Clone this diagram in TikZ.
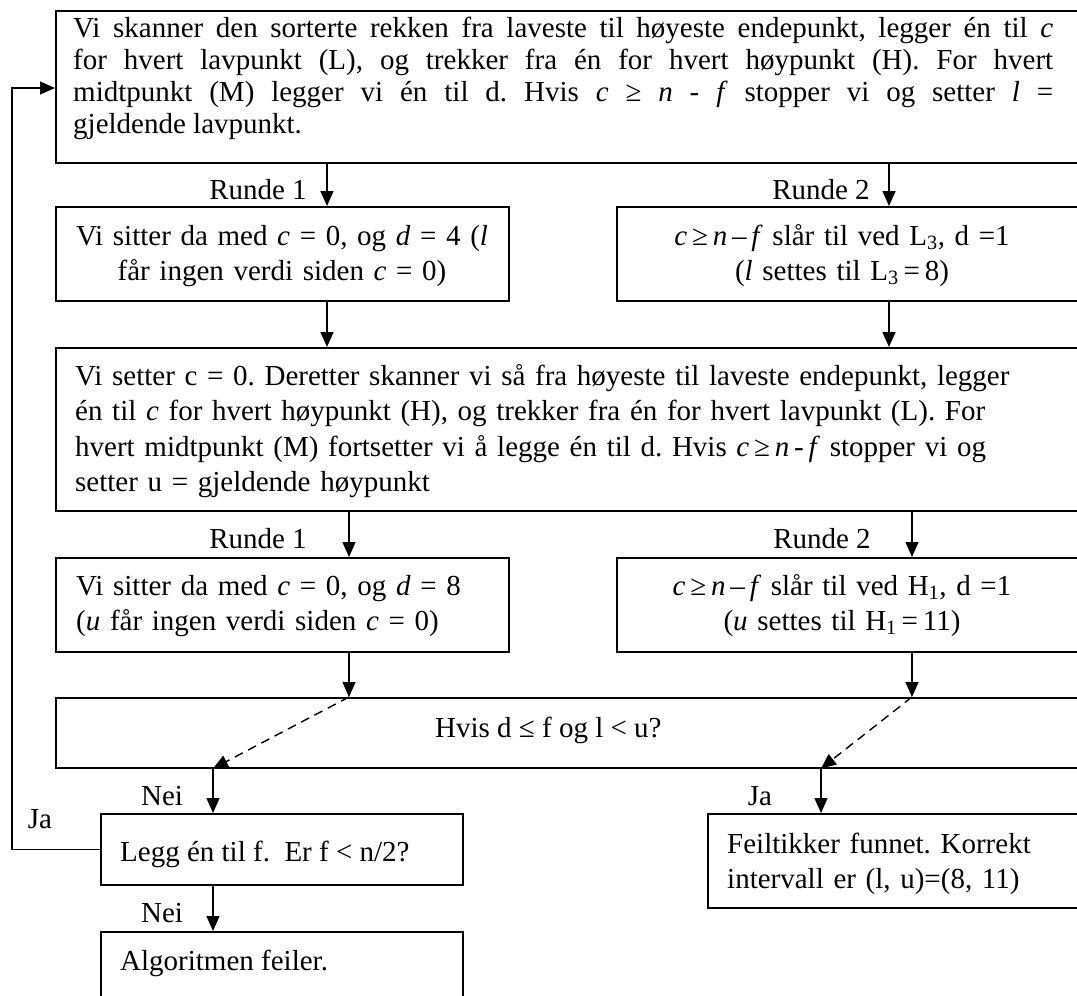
\documentclass[tikz,border=0pt]{standalone}
\usepackage{fontspec}
\setmainfont{Liberation Serif}
\usetikzlibrary{arrows.meta}
\frenchspacing
\begin{document}
\begin{tikzpicture}[x=1pt,y=-1pt,
  box/.style={draw, line width=1.5pt, inner sep=0pt, anchor=north west},
  txt/.style={inner sep=0pt, font=\fontsize{29}{35}\selectfont},
  arr/.style={line width=1.4pt, -{Triangle[length=15pt,width=13pt]}},
  darr/.style={arr, dash pattern=on 9pt off 6pt}]
\useasboundingbox (0,0) rectangle (1077,996);
\fill[white] (0,0) rectangle (1077,996);
\clip (0,0) rectangle (1077,996);

% boxes
\node[box, minimum width=1040, minimum height=152] (top)   at (55,10)  {};
\node[box, minimum width=453,  minimum height=94]  (r1a)   at (55,206) {};
\node[box, minimum width=480,  minimum height=94]  (r2a)   at (616,206) {};
\node[box, minimum width=1040, minimum height=163] (mid)   at (55,347) {};
\node[box, minimum width=453,  minimum height=94]  (r1b)   at (55,557) {};
\node[box, minimum width=480,  minimum height=94]  (r2b)   at (616,557) {};
\node[box, minimum width=1040, minimum height=70]  (cond)  at (55,697) {};
\node[box, minimum width=362,  minimum height=71]  (inc)   at (100,813) {};
\node[box, minimum width=362,  minimum height=120] (fail)  at (100,931) {};
\node[box, minimum width=420,  minimum height=94]  (found) at (707,813) {};

% box texts
\node[txt, anchor=base west, text width=980, align=justify,
      font=\fontsize{29}{32}\selectfont] (toptxt) at (73,37)
  {Vi skanner den sorterte rekken fra laveste til høyeste endepunkt, legger én til \textit{c}\linebreak
   for hvert lavpunkt (L), og trekker fra én for hvert høypunkt (H). For hvert\linebreak
   midtpunkt (M) legger vi én til d. Hvis \textit{c} ≥ \textit{n} - \textit{f} stopper vi og setter \textit{l} =\linebreak
   gjeldende lavpunkt.};
\node[txt, anchor=base, text width=440, align=center] (r1atxt) at (282,245)
  {Vi sitter da med \textit{c} = 0, og \textit{d} = 4 (\textit{l}\\
   får ingen verdi siden \textit{c} = 0)};
\node[txt, anchor=base, text width=440, align=center] (r2atxt) at (842,245)
  {\textit{c}\,≥\,\textit{n}\,–\,\textit{f} slår til ved L\textsubscript{3}, d =1\\
   (\textit{l} settes til L\textsubscript{3}\,=\,8)};
\node[txt, anchor=base west, text width=1000, align=left,
      font=\fontsize{29}{35.5}\selectfont] (midtxt) at (75,385)
  {Vi setter c = 0. Deretter skanner vi så fra høyeste til laveste endepunkt, legger\\
   én til \textit{c} for hvert høypunkt (H), og trekker fra én for hvert lavpunkt (L). For\\
   hvert midtpunkt (M) fortsetter vi å legge én til d. Hvis \textit{c}\,≥\,\textit{n}\,-\,\textit{f} stopper vi og\\
   setter u = gjeldende høypunkt};
\node[txt, anchor=base west, text width=430, align=left] (r1btxt) at (76,595)
  {Vi sitter da med \textit{c} = 0, og \textit{d} = 8\\
   (\textit{u} får ingen verdi siden \textit{c} = 0)};
\node[txt, anchor=base, text width=440, align=center] (r2btxt) at (842,595)
  {\textit{c}\,≥\,\textit{n}\,–\,\textit{f} slår til ved H\textsubscript{1}, d =1\\
   (\textit{u} settes til H\textsubscript{1}\,=\,11)};
\node[txt, anchor=base west] (condtxt) at (435,737) {Hvis d ≤ f og l < u?};
\node[txt, anchor=base west] (inctxt) at (120,861) {Legg én til f.\ \ Er f < n/2?};
\node[txt, anchor=base west] (failtxt) at (120,970) {Algoritmen feiler.};
\node[txt, anchor=base west, text width=340, align=left] (foundtxt) at (727,853)
  {Feiltikker funnet. Korrekt\\
   intervall er (l, u)=(8, 11)};

% connector labels
\node[txt, anchor=base] (run1a) at (258,199) {Runde 1};
\node[txt, anchor=base] (run2a) at (821,199) {Runde 2};
\node[txt, anchor=base] (run1b) at (258,548) {Runde 1};
\node[txt, anchor=base] (run2b) at (822,548) {Runde 2};
\node[txt, anchor=base] (nei1) at (162,805) {Nei};
\node[txt, anchor=base] (nei2) at (162,922) {Nei};
\node[txt, anchor=base] (ja1)  at (40,828)  {Ja};
\node[txt, anchor=base] (ja2)  at (760,805) {Ja};

% vertical tracks of the connectors
\coordinate (xa) at (327,0);
\coordinate (xb) at (889,0);
\coordinate (xc) at (349,0);
\coordinate (xd) at (912,0);
\coordinate (xe) at (213,0);
\coordinate (xg) at (821,0);
\coordinate (loopx) at (12,0);
\coordinate (loopy) at (0,88);

% connectors
\draw[arr] (top.south -| xa) -- (r1a.north -| xa);
\draw[arr] (top.south -| xb) -- (r2a.north -| xb);
\draw[arr] (r1a.south -| xa) -- (mid.north -| xa);
\draw[arr] (r2a.south -| xb) -- (mid.north -| xb);
\draw[arr] (mid.south -| xc) -- (r1b.north -| xc);
\draw[arr] (mid.south -| xd) -- (r2b.north -| xd);
\draw[arr] (r1b.south -| xc) -- (cond.north -| xc);
\draw[arr] (r2b.south -| xd) -- (cond.north -| xd);
\draw[darr] (cond.north -| xc) -- (cond.south -| xe);
\draw[darr] (cond.north -| xd) -- (cond.south -| xg);
\draw[arr] (cond.south -| xe) -- (inc.north -| xe);
\draw[arr] (cond.south -| xg) -- (found.north -| xg);
\draw[arr] (inc.south -| xe) -- (fail.north -| xe);
\draw[arr] (inc.west) -- (inc.west -| loopx) -- (loopx |- loopy) -- (top.west |- loopy);
\end{tikzpicture}
\end{document}
